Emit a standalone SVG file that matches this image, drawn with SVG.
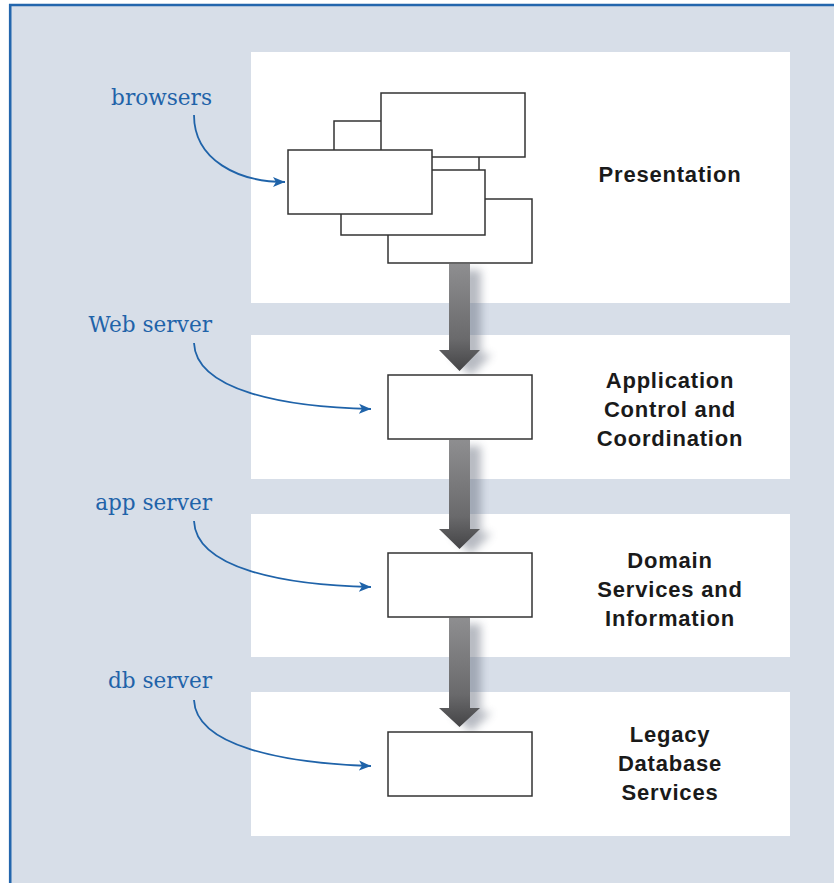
<svg xmlns="http://www.w3.org/2000/svg" width="834" height="883" viewBox="0 0 834 883">
<style>
.panel{fill:#ffffff}
.box{fill:#ffffff;stroke:#333333;stroke-width:1.5}
.lbl{font-family:"DejaVu Serif","Liberation Serif",serif;font-size:21.6px;fill:#1f63a9;text-anchor:end}
.ttl{font-family:"Liberation Sans",Arial,sans-serif;font-weight:bold;font-size:22px;letter-spacing:0.8px;fill:#1a1a1a;text-anchor:middle}
.curve{fill:none;stroke:#1f63a9;stroke-width:1.8;marker-end:url(#bh)}
.arr{fill:url(#ag)}
.shd{fill:#606878;opacity:0.45;filter:url(#blur)}
</style>
<defs>
<marker id="bh" markerUnits="userSpaceOnUse" markerWidth="14" markerHeight="12" refX="12" refY="5" orient="auto" viewBox="0 0 14 10">
<path d="M0,0 L12,5 L0,10 L3,5 z" fill="#1f63a9"/>
</marker>
<linearGradient id="ag" x1="0" y1="0" x2="0" y2="1">
<stop offset="0" stop-color="#8e8e90"/>
<stop offset="0.7" stop-color="#6a6a6c"/>
<stop offset="1" stop-color="#444446"/>
</linearGradient>
<filter id="blur" x="-50%" y="-20%" width="200%" height="140%">
<feGaussianBlur stdDeviation="4"/>
</filter>
</defs>
<rect x="0" y="0" width="834" height="883" fill="#ffffff"/>
<rect x="10" y="5" width="830" height="885" fill="#d7dee8"/>
<path d="M10.2,890 L10.2,5 L840,5" fill="none" stroke="#2366ad" stroke-width="2.6"/>

<g id="panel-presentation">
<rect class="panel" x="251" y="52" width="539" height="251"/>
<text class="ttl" x="670" y="182">Presentation</text>
</g>
<g id="panel-application">
<rect class="panel" x="251" y="335" width="539" height="144"/>
<text class="ttl" x="670" y="388">Application</text>
<text class="ttl" x="670" y="417">Control and</text>
<text class="ttl" x="670" y="446">Coordination</text>
</g>
<g id="panel-domain">
<rect class="panel" x="251" y="514" width="539" height="143"/>
<text class="ttl" x="670" y="568">Domain</text>
<text class="ttl" x="670" y="597">Services and</text>
<text class="ttl" x="670" y="626">Information</text>
</g>
<g id="panel-legacy">
<rect class="panel" x="251" y="692" width="539" height="144"/>
<text class="ttl" x="670" y="742">Legacy</text>
<text class="ttl" x="670" y="771">Database</text>
<text class="ttl" x="670" y="800">Services</text>
</g>

<g id="connectors">
<g id="flow-arrows">
<path class="shd" d="M457,268 L475,268 L475,352 L486,352 L465,374 L444,352 L457,352 z" transform="translate(6,2)"/>
<path class="arr" d="M449,264 L470,264 L470,350 L480,350 L459.5,371 L439,350 L449,350 z"/>
<path class="shd" d="M457,444 L475,444 L475,531 L486,531 L465,552 L444,531 L457,531 z" transform="translate(6,2)"/>
<path class="arr" d="M449,440 L470,440 L470,529 L480,529 L459.5,549 L439,529 L449,529 z"/>
<path class="shd" d="M457,622 L475,622 L475,710 L486,710 L465,730 L444,710 L457,710 z" transform="translate(6,2)"/>
<path class="arr" d="M449,618 L470,618 L470,708 L480,708 L459.5,727 L439,708 L449,708 z"/>
</g>
<path class="curve" d="M194,115 C194,160 238,182 285,182"/>
<path class="curve" d="M194,343 C196,390 282,407 371,409"/>
<path class="curve" d="M194,521 C196,568 282,585 371,587"/>
<path class="curve" d="M194,700 C196,746 282,763 371,766"/>
</g>

<g id="browsers">
<rect class="box" x="334" y="121" width="145" height="64"/>
<rect class="box" x="381" y="93" width="144" height="64"/>
<rect class="box" x="388" y="199" width="144" height="64"/>
<rect class="box" x="341" y="170" width="144" height="65"/>
<rect class="box" x="288" y="150" width="144" height="64"/>
</g>
<g id="web-server"><rect class="box" x="388" y="375" width="144" height="64"/></g>
<g id="app-server"><rect class="box" x="388" y="553" width="144" height="64"/></g>
<g id="db-server"><rect class="box" x="388" y="732" width="144" height="64"/></g>

<g id="labels">
<text class="lbl" x="212" y="105">browsers</text>
<text class="lbl" x="212" y="332">Web server</text>
<text class="lbl" x="212" y="510">app server</text>
<text class="lbl" x="212" y="688">db server</text>
</g>
</svg>
